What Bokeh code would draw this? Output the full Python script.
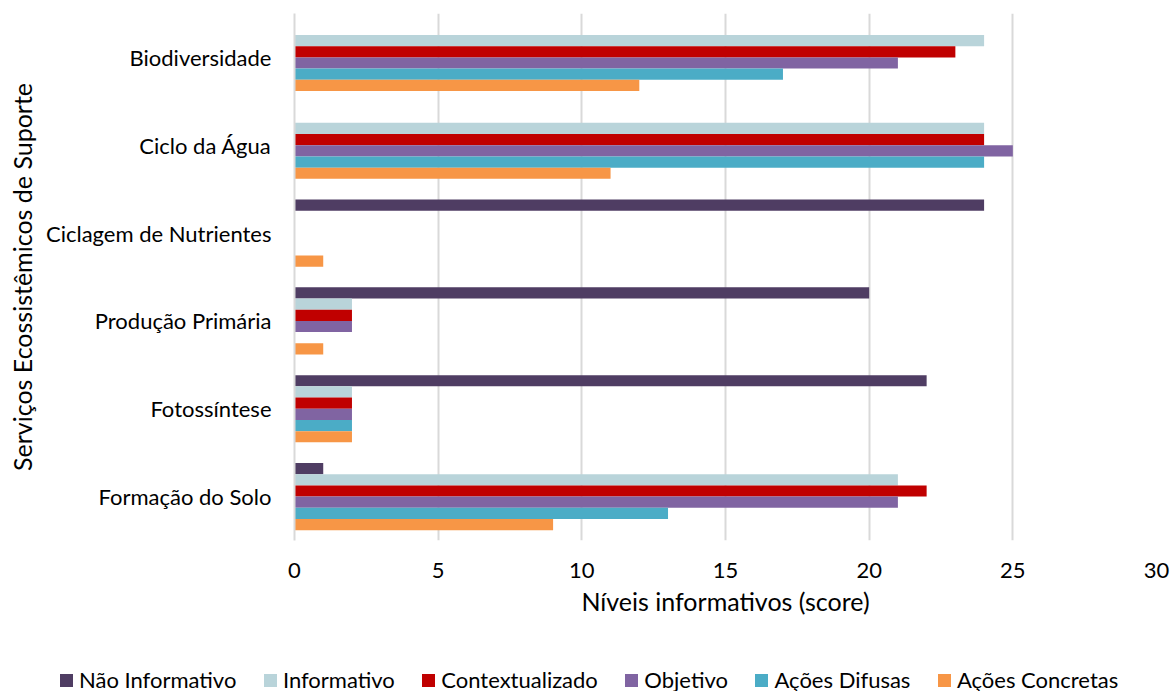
from bokeh.plotting import figure
from bokeh.layouts import column
from bokeh.models import FactorRange, ColumnDataSource, Div
from bokeh.transform import dodge
from bokeh.embed import file_html
from bokeh.resources import INLINE

# Ecosystem support services (bottom to top on the axis)
categories = ["Formação do Solo", "Fotossíntese", "Produção Primária",
              "Ciclagem de Nutrientes", "Ciclo da Água", "Biodiversidade"]

series_names = ["Não Informativo", "Informativo", "Contextualizado",
                "Objetivo", "Ações Difusas", "Ações Concretas"]

# Scores per series, aligned with `categories`
nao_informativo = [1, 22, 20, 24, 0, 0]
informativo = [21, 2, 2, 0, 24, 24]
contextualizado = [22, 2, 2, 0, 24, 23]
objetivo = [21, 2, 2, 0, 25, 21]
acoes_difusas = [13, 2, 0, 0, 24, 17]
acoes_concretas = [9, 2, 1, 1, 11, 12]

series_values = [nao_informativo, informativo, contextualizado,
                 objetivo, acoes_difusas, acoes_concretas]
series_colors = ["#4F3D63", "#B9D4DA", "#C00000", "#8064A2", "#4BACC6", "#F79646"]

x_ticks = [0, 5, 10, 15, 20, 25, 30]

FONT = "Lato"
bar_h = 0.1275

p = figure(
    y_range=FactorRange(*categories),
    x_range=(0, 30),
    width=1175, height=650,
    min_border_left=294, min_border_right=19,
    min_border_top=13, min_border_bottom=110,
    output_backend="svg", toolbar_location=None,
)
p.outline_line_color = None
p.background_fill_color = "white"

src = ColumnDataSource(dict(cat=categories, **{f"s{i}": v for i, v in enumerate(series_values)}))

for i, color in enumerate(series_colors):
    off = (2.5 - i) * bar_h
    p.hbar(y=dodge("cat", off, range=p.y_range), left=0, right=f"s{i}",
           height=bar_h, source=src, fill_color=color, line_color=None)

# x axis
xa = p.xaxis[0]
xa.ticker = x_ticks
xa.axis_line_color = None
xa.major_tick_line_color = None
xa.minor_tick_line_color = None
xa.major_label_text_font = FONT
xa.major_label_text_font_size = "22px"
xa.major_label_text_color = "#000000"
xa.major_label_standoff = 16
xa.axis_label = "Níveis informativos (score)"
xa.axis_label_text_font = FONT
xa.axis_label_text_font_size = "25px"
xa.axis_label_text_font_style = "normal"
xa.axis_label_text_color = "#000000"
xa.axis_label_standoff = 5

# y axis
ya = p.yaxis[0]
ya.axis_line_color = "#D9D9D9"
ya.axis_line_width = 2
ya.major_tick_line_color = None
ya.minor_tick_line_color = None
ya.major_label_text_font = FONT
ya.major_label_text_font_size = "22px"
ya.major_label_text_color = "#000000"
ya.major_label_standoff = 17
ya.axis_label = "Serviços Ecossistêmicos de Suporte"
ya.axis_label_text_font = FONT
ya.axis_label_text_font_size = "25px"
ya.axis_label_text_font_style = "normal"
ya.axis_label_text_color = "#000000"
ya.axis_label_standoff = 6

p.xgrid.grid_line_color = "#D9D9D9"
p.xgrid.grid_line_width = 2
p.xgrid.ticker = x_ticks
p.ygrid.grid_line_color = None

# horizontal legend row under the chart
item_html = "".join(
    f'<span style="display:inline-flex;align-items:center;margin-right:27.5px">'
    f'<span style="display:inline-block;width:13px;height:13px;background:{c};margin-right:6px"></span>'
    f'{n}</span>'
    for n, c in zip(series_names, series_colors)
)
legend_div = Div(
    text=(f'<div style="display:flex;align-items:center;height:24px;margin-top:18px;'
          f'padding-left:60px;font-family:{FONT};font-size:22px;line-height:24px;'
          f'color:#000000;white-space:nowrap">{item_html}</div>'),
    width=1175, height=41, margin=0,
)

layout = column(p, legend_div, spacing=0)
open("out.html", "w").write(file_html(layout, INLINE))
